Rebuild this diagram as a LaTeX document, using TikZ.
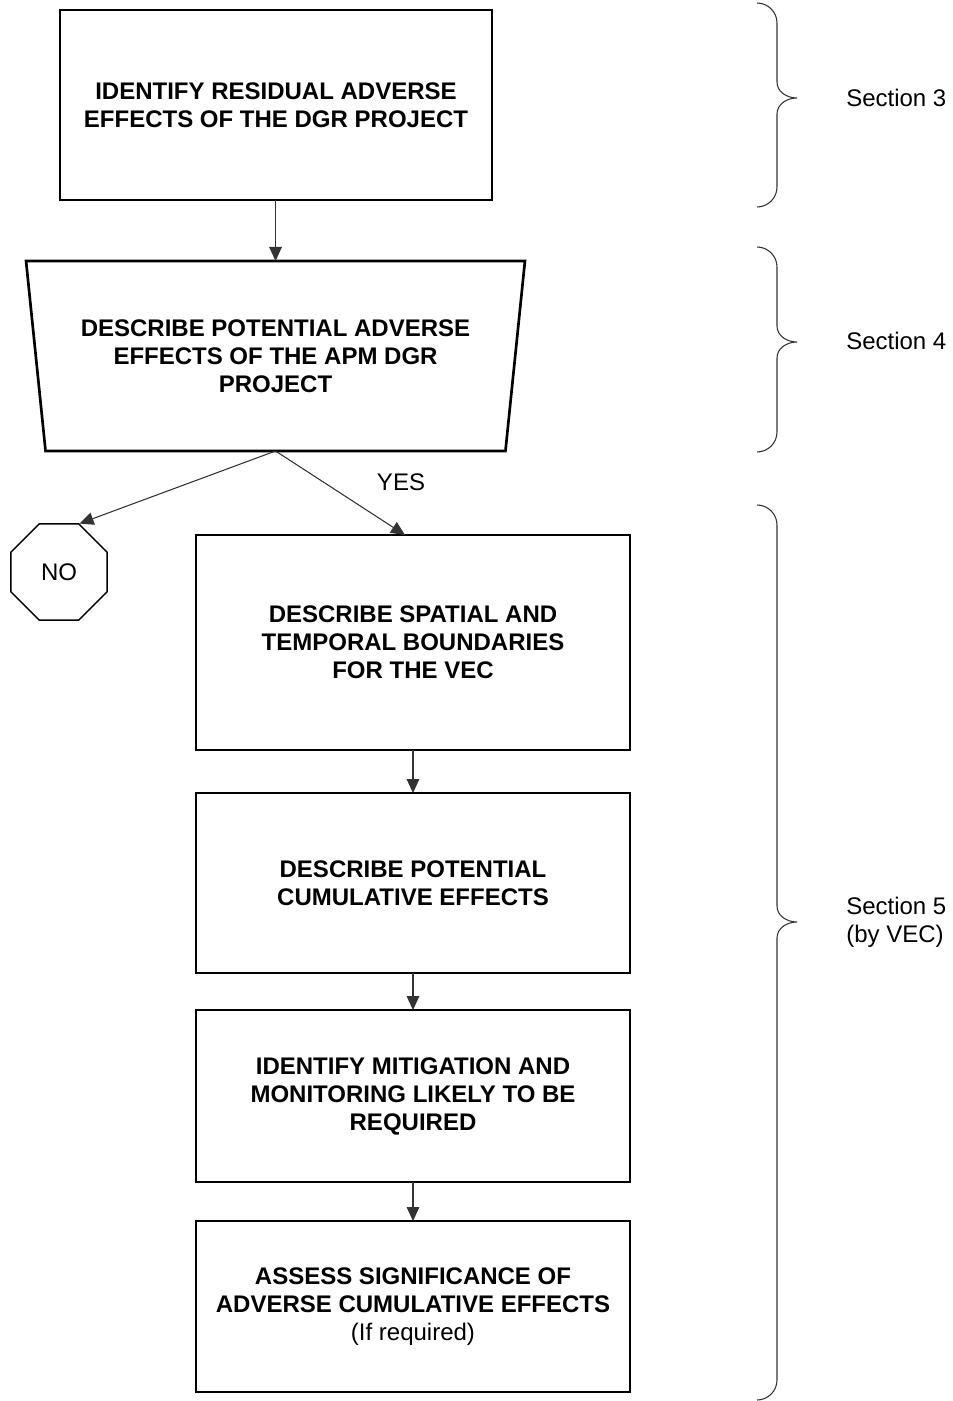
\documentclass[tikz,border=0pt]{standalone}
\usepackage{fontspec}
\setmainfont{Liberation Sans}
\usetikzlibrary{positioning,shapes.geometric,arrows.meta}

\tikzset{
  stepbox/.style={draw, line width=1.6pt, minimum width=325.5pt, align=center,
    font=\fontsize{18}{21}\selectfont\bfseries, inner sep=0pt, outer sep=0pt},
  flow/.style={-{Triangle[length=10.5pt,width=9.5pt]}, line width=0.8pt, black!80},
  sidenote/.style={anchor=west, align=left, font=\fontsize{18}{21}\selectfont, inner sep=0pt},
  curly/.style={line width=0.8pt, black!80},
}

\begin{document}
\begin{tikzpicture}[x=0.75pt, y=-0.75pt]
  \useasboundingbox (0,0) rectangle (952,1401);

  \node[stepbox, minimum width=324pt, minimum height=142.5pt] (ires) at (276,105)
    {IDENTIFY RESIDUAL ADVERSE\\EFFECTS OF THE DGR PROJECT};

  \node[trapezium, trapezium left angle=77.25, trapezium right angle=77.25,
    shape border rotate=180, trapezium stretches=true, draw, line width=2pt,
    minimum width=375.75pt, minimum height=142.5pt, align=center,
    font=\fontsize{18}{21}\selectfont\bfseries, inner sep=0pt, outer sep=0pt] (dpe) at (275.5,356)
    {DESCRIBE POTENTIAL ADVERSE\\EFFECTS OF THE APM DGR\\PROJECT};

  \node[regular polygon, regular polygon sides=8, draw, line width=1.1pt, minimum size=78pt,
    inner sep=0pt, font=\fontsize{18}{21}\selectfont] (no) at (59,572) {NO};

  \node[stepbox, minimum height=161.25pt] (vec) at (413,642.5)
    {DESCRIBE SPATIAL AND\\TEMPORAL BOUNDARIES\\FOR THE VEC};
  \node[stepbox, minimum height=135pt, below=32.25pt of vec] (cum)
    {DESCRIBE POTENTIAL\\CUMULATIVE EFFECTS};
  \node[stepbox, minimum height=129pt, below=27.75pt of cum] (mit)
    {IDENTIFY MITIGATION AND\\MONITORING LIKELY TO BE\\REQUIRED};
  \node[stepbox, minimum height=128.25pt, below=29.25pt of mit] (sig)
    {ASSESS SIGNIFICANCE OF\\ADVERSE CUMULATIVE EFFECTS\\{\mdseries (If required)}};

  \node[sidenote, anchor=center] (yes) at (401,482) {YES};

  % arrows
  \draw[flow] (ires.south -| dpe.north) -- (dpe.north);
  \draw[flow] (dpe.south) -- (no.67.5);
  \draw[flow] (dpe.south) -- ([xshift=-6pt]vec.north);
  \draw[flow] (vec) -- (cum);
  \draw[flow] (cum) -- (mit);
  \draw[flow] (mit) -- (sig);

  % braces and section labels
  \foreach \ya/\yt/\yb in {3/98/207, 247/342/452, 505/922/1400}
    \draw[curly] (757,\ya) .. controls (768,\ya) and (777,{\ya+9}) .. (777,{\ya+20})
      -- (777,{\yt-16}) .. controls (777,{\yt-6}) and (787,\yt) .. (797,\yt)
      .. controls (787,\yt) and (777,{\yt+6}) .. (777,{\yt+16})
      -- (777,{\yb-20}) .. controls (777,{\yb-9}) and (768,\yb) .. (757,\yb);

  \node[sidenote] (sec3) at (846,98) {Section 3};
  \node[sidenote] (sec4) at (846,341) {Section 4};
  \node[sidenote] (sec5) at (846,922) {Section 5\\(by VEC)};
\end{tikzpicture}
\end{document}
